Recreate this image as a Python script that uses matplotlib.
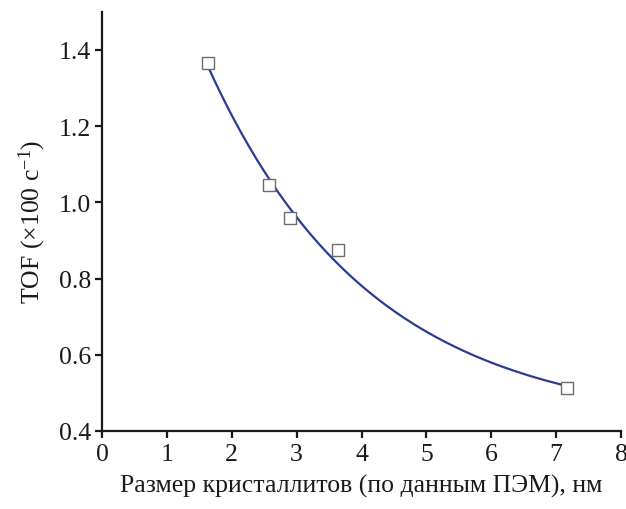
import numpy as np
import matplotlib
matplotlib.use("Agg")
import matplotlib.pyplot as plt

plt.rcParams['font.family'] = ['Liberation Serif', 'DejaVu Serif']
plt.rcParams['mathtext.fontset'] = 'custom'
plt.rcParams['mathtext.rm'] = 'Liberation Serif'
plt.rcParams['mathtext.it'] = 'Liberation Serif:italic'

size_nm = [1.64, 2.57, 2.89, 3.64, 7.16]
tof = [1.365, 1.045, 0.960, 0.876, 0.512]
xticks = [0, 1, 2, 3, 4, 5, 6, 7, 8]
yticks = [0.4, 0.6, 0.8, 1.0, 1.2, 1.4]
xlabel = "Размер кристаллитов (по данным ПЭМ), нм"
ylabel = "TOF (×100 с$^{-1}$)"

# exponential decay fit y = y0 + A*exp(-x/t) from the data
x = np.array(size_nm)
y = np.array(tof)
best = None
for t in np.linspace(0.5, 20, 2000):
    M = np.column_stack([np.ones_like(x), np.exp(-x / t)])
    coef, res, *_ = np.linalg.lstsq(M, y, rcond=None)
    r = np.sum((M @ coef - y) ** 2)
    if best is None or r < best[0]:
        best = (r, t, coef)
_, t_fit, c_fit = best
xf = np.linspace(x.min(), x.max() - 0.05, 300)
yf = c_fit[0] + c_fit[1] * np.exp(-xf / t_fit)

fig = plt.figure(figsize=(6.26, 5.10), dpi=100)
ax = fig.add_axes([0.163, 0.153, 0.829, 0.822])
ax.plot(xf, yf, color='#2a3b94', lw=1.6, zorder=2)
ax.plot(size_nm, tof, linestyle='none', marker='s', markersize=8,
        markerfacecolor='white', markeredgecolor='#6b6b6b', markeredgewidth=1.0, zorder=3)

ax.set_xlim(0, 8)
ax.set_ylim(0.4, 1.5)
ax.set_xticks(xticks)
ax.set_xticklabels([str(v) for v in xticks])
ax.set_yticks(yticks)
ax.set_yticklabels([f"{v:.1f}" for v in yticks])
for s in ['top', 'right']:
    ax.spines[s].set_visible(False)
for s in ['left', 'bottom']:
    ax.spines[s].set_linewidth(1.6)
    ax.spines[s].set_color('#1a1a1a')
ax.tick_params(direction='out', length=5, width=1.6, labelsize=18.5, colors='#1a1a1a')
ax.tick_params(axis='y', pad=3)
ax.tick_params(axis='x', pad=4)
ax.set_xlabel(xlabel, fontsize=18.5, color='#1a1a1a', labelpad=6)
ax.set_ylabel(ylabel, fontsize=18.5, color='#1a1a1a', labelpad=8)

fig.savefig("out.png", dpi=100)
